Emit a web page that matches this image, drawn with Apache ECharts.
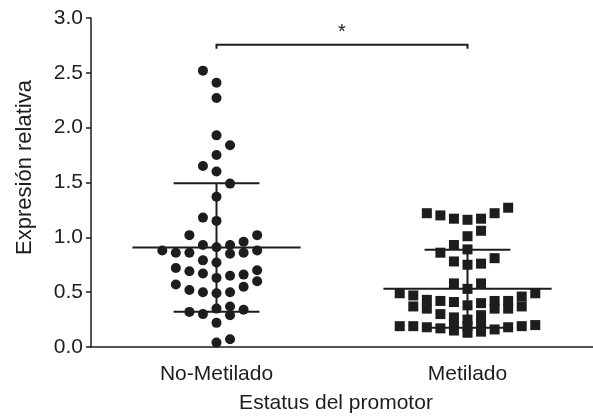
<!DOCTYPE html>
<html><head><meta charset="utf-8">
<script src="https://cdn.jsdelivr.net/npm/echarts/dist/echarts.min.js"></script>
<style>html,body{margin:0;padding:0;background:#fff}#c{width:593px;height:419px}</style>
</head><body><div id="c"></div>
<script>
// ---- data ----
const categories = ['No-Metilado', 'Metilado'];
const yAxisName = 'Expresión relativa';
const xAxisName = 'Estatus del promotor';
const yMin = 0, yMax = 3.0, yStep = 0.5;

// No-Metilado: value and jitter lane (column offset in the dot plot)
const noMetValues = [2.52, 2.41, 2.27, 1.93, 1.84, 1.75, 1.65, 1.60, 1.49, 1.37,
  1.18, 1.15, 1.02, 1.02, 0.96, 0.93, 0.93, 0.91, 0.88, 0.88,
  0.86, 0.86, 0.85, 0.86, 0.79, 0.77, 0.72, 0.69, 0.67, 0.70,
  0.65, 0.66, 0.63, 0.60, 0.57, 0.55, 0.52, 0.50, 0.49, 0.50,
  0.35, 0.37, 0.34, 0.32, 0.30, 0.29, 0.22, 0.07, 0.04];
const noMetLanes = [-1, 0, 0, 0, 1, 0, -1, 0, 1, 0,
  -1, 0, -2, 3, 2, -1, 1, 0, -4, 3,
  -3, -2, 1, 2, -1, 0, -3, -2, -1, 3,
  1, 2, 0, 3, -3, 2, -2, -1, 0, 1,
  0, 1, 2, -2, -1, 1, 0, 1, 0];

// Metilado
const metValues = [1.22, 1.20, 1.17, 1.16, 1.17, 1.22, 1.27, 1.06, 1.01, 0.93,
  0.89, 0.86, 0.81, 0.78, 0.75, 0.76, 0.58, 0.58, 0.53, 0.49,
  0.49, 0.47, 0.37, 0.43, 0.35, 0.42, 0.41, 0.38, 0.40, 0.42,
  0.35, 0.42, 0.35, 0.46, 0.37, 0.30, 0.27, 0.25, 0.29, 0.22,
  0.21, 0.19, 0.19, 0.19, 0.18, 0.17, 0.15, 0.13, 0.14, 0.16,
  0.18, 0.19, 0.20];
const metLanes = [-3, -2, -1, 0, 1, 2, 3, 1, 0, -1,
  0, -2, 2, -1, 0, 1, -1, 1, 0, -5,
  5, -4, -4, -3, -3, -2, -1, 0, 1, 2,
  2, 3, 3, 4, 4, -2, -1, 0, 1, -1,
  1, 0, -5, -4, -3, -2, -1, 0, 1, 2,
  3, 4, 5];

const sigLabel = '*';
const bracketLevel = 2.755;

// ---- styling ----
const INK = '#1e1c1d';
const FONT = '"Liberation Sans", Arial, Helvetica, sans-serif';
const LANE = 0.054;      // horizontal spacing of jitter columns (x units)
const MEAN_HALF = 0.335; // half width of mean line
const CAP_HALF = 0.171;  // half width of SD caps

function stats(arr) {
  const n = arr.length;
  const m = arr.reduce((a, b) => a + b, 0) / n;
  const v = arr.reduce((a, b) => a + (b - m) * (b - m), 0) / (n - 1);
  return [m, Math.sqrt(v)];
}
const sNo = stats(noMetValues), sMet = stats(metValues);

const noMetPts = noMetValues.map((v, i) => [1 + noMetLanes[i] * LANE, v]);
const metPts = metValues.map((v, i) => [2 + metLanes[i] * LANE, v]);

const chart = echarts.init(document.getElementById('c'), null, {renderer: 'canvas'});
chart.setOption({
  animation: false,
  backgroundColor: '#fff',
  grid: {left: 91, right: -8, top: 18, bottom: 64, containLabel: false},
  xAxis: [
    {type: 'value', min: 0.5, max: 2.5, show: false},
    {type: 'category', data: categories, position: 'bottom', boundaryGap: true,
      axisLine: {lineStyle: {color: INK, width: 1.5}},
      axisTick: {alignWithLabel: true, length: 5, lineStyle: {color: INK, width: 1.5}},
      axisLabel: {color: INK, fontSize: 21, fontFamily: FONT, margin: 17},
      splitLine: {show: false},
      name: xAxisName, nameLocation: 'middle', nameGap: 46,
      nameTextStyle: {color: INK, fontSize: 21, fontFamily: FONT, padding: [0, 12, 0, 0]}}
  ],
  yAxis: {type: 'value', min: yMin, max: yMax, interval: yStep,
    axisLine: {show: true, lineStyle: {color: INK, width: 1.5}},
    axisTick: {show: true, length: 5, lineStyle: {color: INK, width: 1.5}},
    axisLabel: {color: INK, fontSize: 21, fontFamily: FONT, margin: 8,
      formatter: v => v.toFixed(1)},
    splitLine: {show: false},
    name: yAxisName, nameLocation: 'middle', nameGap: 55,
    nameTextStyle: {color: INK, fontSize: 22, fontFamily: FONT, padding: [0, 0, 0, 30]}},
  series: [
    {type: 'custom', xAxisIndex: 0, yAxisIndex: 0, z: 1,
      data: [[1, sNo[0], sNo[1]], [2, sMet[0], sMet[1]]],
      renderItem: (params, api) => {
        const x = api.value(0), m = api.value(1), s = api.value(2);
        const st = {stroke: INK, lineWidth: 2};
        const p = (a, b) => api.coord([a, b]);
        const l = (a, b) => ({type: 'line', shape: {x1: a[0], y1: a[1], x2: b[0], y2: b[1]}, style: st});
        return {type: 'group', children: [
          l(p(x - MEAN_HALF, m), p(x + MEAN_HALF, m)),
          l(p(x, m - s), p(x, m + s)),
          l(p(x - CAP_HALF, m + s), p(x + CAP_HALF, m + s)),
          l(p(x - CAP_HALF, m - s), p(x + CAP_HALF, m - s))
        ]};
      }},
    {type: 'scatter', xAxisIndex: 0, yAxisIndex: 0, z: 3, symbol: 'circle', symbolSize: 10,
      itemStyle: {color: INK, opacity: 1}, data: noMetPts},
    {type: 'scatter', xAxisIndex: 0, yAxisIndex: 0, z: 3, symbol: 'rect', symbolSize: 10,
      itemStyle: {color: INK, opacity: 1}, data: metPts},
    {type: 'custom', xAxisIndex: 0, yAxisIndex: 0, z: 4,
      data: [[1, 2, bracketLevel]],
      renderItem: (params, api) => {
        const a = api.value(0), b = api.value(1), y = api.value(2);
        const p1 = api.coord([a, y]), p2 = api.coord([b, y]);
        return {type: 'group', children: [
          {type: 'polyline', shape: {points: [[p1[0], p1[1] + 4], p1, p2, [p2[0], p2[1] + 4]]},
            style: {stroke: INK, lineWidth: 2, fill: null}},
          {type: 'text', x: (p1[0] + p2[0]) / 2, y: p1[1] - 12,
            style: {text: sigLabel, fill: INK, fontSize: 20, fontFamily: FONT,
              textAlign: 'center', textVerticalAlign: 'middle'}}
        ]};
      }}
  ]
});
</script></body></html>
